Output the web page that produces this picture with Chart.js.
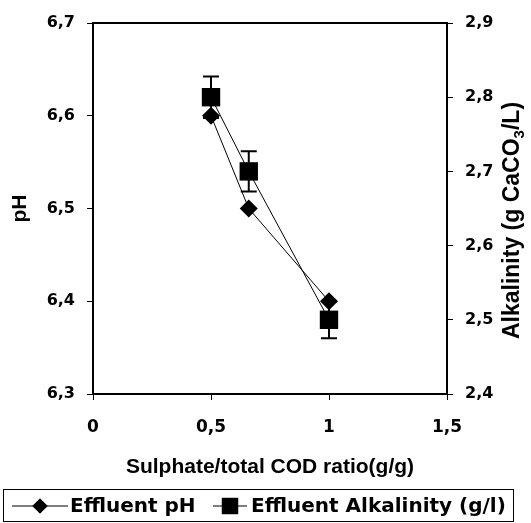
<!DOCTYPE html>
<html>
<head>
<meta charset="utf-8">
<script src="https://cdn.jsdelivr.net/npm/chart.js@4/dist/chart.umd.min.js"></script>
<style>
  html, body { margin: 0; padding: 0; background: #fff; }
  canvas { display: block; }
</style>
</head>
<body>
<canvas id="c" width="531" height="523"></canvas>
<script>
// ---- data ----
const ratios = [0.5, 0.66, 1.0];                 // Sulphate/total COD ratio (g/g)
const phValues = [6.6, 6.5, 6.4];                // Effluent pH
const alkValues = [2.8, 2.7, 2.5];               // Effluent alkalinity (g CaCO3/L)
const alkErrors = [0.028, 0.027, 0.025];         // error bar half-lengths
const xTicks = [0, 0.5, 1, 1.5];
const phTicks = [6.3, 6.4, 6.5, 6.6, 6.7];
const alkTicks = [2.4, 2.5, 2.6, 2.7, 2.8, 2.9];
const seriesNames = ['Effluent pH', 'Effluent Alkalinity (g/l)'];
const axisTitleX = 'Sulphate/total COD ratio(g/g)';
const axisTitleY = 'pH';
const axisTitleY1 = ['Alkalinity (g CaCO', '3', '/L)'];   // middle part is a subscript

const TICK_FONT = { family: "'DejaVu Sans', sans-serif", size: 16, weight: 'bold' };
const XTICK_FONT = { family: "'DejaVu Sans', sans-serif", size: 17, weight: 'bold' };
const TITLE_FONT = { family: "'Liberation Sans', Arial, sans-serif", size: 21, weight: 'bold' };
const comma = v => String(v).replace('.', ',');

const errorBars = {
  id: 'errorBars',
  beforeDatasetsDraw(chart) {
    const ctx = chart.ctx, xs = chart.scales.x, ys = chart.scales.y1;
    ctx.save();
    ctx.strokeStyle = '#000'; ctx.lineWidth = 2;
    ratios.forEach((r, i) => {
      const x = xs.getPixelForValue(r);
      const yt = ys.getPixelForValue(alkValues[i] + alkErrors[i]);
      const yb = ys.getPixelForValue(alkValues[i] - alkErrors[i]);
      ctx.beginPath();
      ctx.moveTo(x, yt); ctx.lineTo(x, yb);
      ctx.moveTo(x - 8, yt); ctx.lineTo(x + 8, yt);
      ctx.moveTo(x - 8, yb); ctx.lineTo(x + 8, yb);
      ctx.stroke();
    });
    ctx.restore();
  }
};

const decorations = {
  id: 'decorations',
  afterDraw(chart) {
    const ctx = chart.ctx, a = chart.chartArea;
    ctx.save();
    // top frame line
    ctx.strokeStyle = '#000'; ctx.lineWidth = 2;
    ctx.beginPath(); ctx.moveTo(a.left - 1, a.top); ctx.lineTo(a.right + 1, a.top); ctx.stroke();

    // right axis title, reading bottom-to-top, with subscript
    const big = "bold 23px 'Liberation Sans', Arial, sans-serif";
    const small = "bold 15px 'Liberation Sans', Arial, sans-serif";
    ctx.fillStyle = '#000';
    ctx.font = big; const w0 = ctx.measureText(axisTitleY1[0]).width;
    const w2 = ctx.measureText(axisTitleY1[2]).width;
    ctx.font = small; const w1 = ctx.measureText(axisTitleY1[1]).width;
    const total = w0 + w1 + w2;
    ctx.translate(519, (a.top + a.bottom) / 2 + 12);
    ctx.rotate(-Math.PI / 2);
    ctx.textBaseline = 'alphabetic'; ctx.textAlign = 'left';
    let x = -total / 2;
    ctx.font = big; ctx.fillText(axisTitleY1[0], x, 0); x += w0;
    ctx.font = small; ctx.fillText(axisTitleY1[1], x, 5); x += w1;
    ctx.font = big; ctx.fillText(axisTitleY1[2], x, 0);
    ctx.restore();

    // legend
    ctx.save();
    ctx.strokeStyle = '#000'; ctx.lineWidth = 1;
    ctx.strokeRect(3.5, 489.5, 510, 32);
    const cy = 506;
    const items = [
      { x0: 12, x1: 68, tx: 70 },
      { x0: 213, x1: 247, tx: 251 }
    ];
    chart.data.datasets.forEach((ds, i) => {
      const it = items[i];
      ctx.strokeStyle = ds.borderColor; ctx.lineWidth = 1.2;
      ctx.beginPath(); ctx.moveTo(it.x0, cy); ctx.lineTo(it.x1, cy); ctx.stroke();
      const mx = (it.x0 + it.x1) / 2;
      Chart.helpers.drawPoint(ctx, { pointStyle: ds.pointStyle, radius: ds.pointStyle === 'rect' ? 11.5 : 7.5, borderWidth: 0 }, mx, cy);
      ctx.fillStyle = '#000';
      ctx.fill();
      ctx.font = "bold 20px 'DejaVu Sans', sans-serif";
      ctx.textBaseline = 'middle'; ctx.textAlign = 'left';
      ctx.fillText(ds.label, it.tx, cy + 1);
    });
    ctx.restore();
  }
};

new Chart(document.getElementById('c'), {
  type: 'scatter',
  data: {
    datasets: [
      {
        label: seriesNames[0],
        data: ratios.map((x, i) => ({ x, y: phValues[i] })),
        yAxisID: 'y',
        showLine: true,
        borderColor: '#000', borderWidth: 1,
        backgroundColor: '#000',
        pointStyle: 'rectRot', pointRadius: 9, pointHoverRadius: 9,
        pointBorderWidth: 0
      },
      {
        label: seriesNames[1],
        data: ratios.map((x, i) => ({ x, y: alkValues[i] })),
        yAxisID: 'y1',
        showLine: true,
        borderColor: '#000', borderWidth: 1,
        backgroundColor: '#000',
        pointStyle: 'rect', pointRadius: 13, pointHoverRadius: 13,
        pointBorderWidth: 0
      }
    ]
  },
  options: {
    responsive: false,
    animation: false,
    events: [],
    layout: { padding: { top: 23, bottom: 0, left: 0, right: 0 } },
    scales: {
      x: {
        type: 'linear', min: 0, max: 1.5,
        afterBuildTicks: s => { s.ticks = xTicks.map(v => ({ value: v })); },
        afterFit: s => { s.height = 129; },
        ticks: { font: XTICK_FONT, color: '#000', padding: 17, callback: v => comma(v), maxRotation: 0 },
        grid: { drawOnChartArea: false, drawTicks: true, tickLength: 6, color: '#000', lineWidth: 1 },
        border: { display: true, color: '#000', width: 2 },
        title: { display: true, text: axisTitleX, font: TITLE_FONT, color: '#000', padding: { top: 0, bottom: 43 } }
      },
      y: {
        type: 'linear', position: 'left', min: 6.3, max: 6.7,
        afterBuildTicks: s => { s.ticks = phTicks.map(v => ({ value: v })); },
        afterFit: s => { s.width = 93; },
        ticks: { font: TICK_FONT, color: '#000', padding: 12, callback: v => comma(v.toFixed(1)) },
        grid: { drawOnChartArea: false, drawTicks: true, tickLength: 6, color: '#000', lineWidth: 1 },
        border: { display: true, color: '#000', width: 2 },
        title: { display: true, text: axisTitleY, font: TITLE_FONT, color: '#000', padding: { top: 8, bottom: 4 } }
      },
      y1: {
        type: 'linear', position: 'right', min: 2.4, max: 2.9,
        afterBuildTicks: s => { s.ticks = alkTicks.map(v => ({ value: v })); },
        afterFit: s => { s.width = 84; },
        ticks: { font: TICK_FONT, color: '#000', padding: 12, callback: v => comma(v.toFixed(1)) },
        grid: { drawOnChartArea: false, drawTicks: true, tickLength: 6, color: '#000', lineWidth: 1 },
        border: { display: true, color: '#000', width: 2 },
        title: { display: false }
      }
    },
    plugins: {
      tooltip: { enabled: false },
      legend: { display: false }
    }
  },
  plugins: [errorBars, decorations]
});
</script>
</body>
</html>
